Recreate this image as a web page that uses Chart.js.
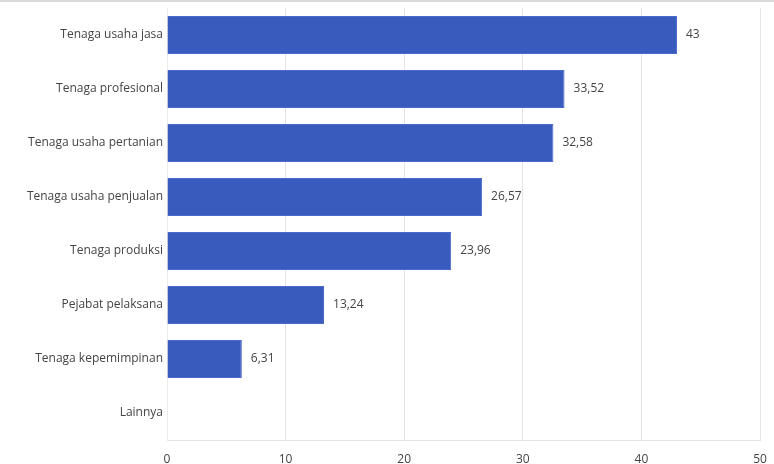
<!DOCTYPE html>
<html>
<head>
<meta charset="utf-8">
<script src="https://cdn.jsdelivr.net/npm/chart.js@4"></script>
<style>
  html, body { margin: 0; padding: 0; background: #fff; }
  #wrap { width: 774px; height: 464px; position: relative; }
</style>
</head>
<body>
<div id="wrap"><canvas id="barChart"></canvas></div>
<script>
// data
const categories = [
  "Tenaga usaha jasa",
  "Tenaga profesional",
  "Tenaga usaha pertanian",
  "Tenaga usaha penjualan",
  "Tenaga produksi",
  "Pejabat pelaksana",
  "Tenaga kepemimpinan",
  "Lainnya",
];
const values = [43, 33.52, 32.58, 26.57, 23.96, 13.24, 6.31, null];
const xTicks = [0, 10, 20, 30, 40, 50];

const fontFamily = "'Open Sans', 'Noto Sans', sans-serif";
const textColor = "#444";

// label angka di ujung batang
const valueLabels = {
  id: "valueLabels",
  afterDatasetsDraw(chart) {
    const ctx = chart.ctx;
    const meta = chart.getDatasetMeta(0);
    ctx.save();
    ctx.font = "12px " + fontFamily;
    ctx.fillStyle = textColor;
    ctx.textBaseline = "middle";
    ctx.textAlign = "left";
    meta.data.forEach((bar, i) => {
      const v = values[i];
      if (v === null) return;
      const txt = String(v).replace(".", ",");
      ctx.fillText(txt, bar.x + 9, bar.y);
    });
    ctx.restore();
  },
};

// garis abu di atas
const topLine = {
  id: "topLine",
  beforeDraw(chart) {
    const ctx = chart.ctx;
    ctx.save();
    ctx.fillStyle = "#d9d9d9";
    ctx.fillRect(0, 0, chart.width, 2);
    ctx.restore();
  },
};

const ctx = document.getElementById("barChart").getContext("2d");
new Chart(ctx, {
  type: "bar",
  data: {
    labels: categories,
    datasets: [
      {
        data: values,
        backgroundColor: "#3A5BBE",
        borderColor: "#4A6BCB",
        borderWidth: 1,
        barPercentage: 0.7,
        categoryPercentage: 1,
      },
    ],
  },
  options: {
    indexAxis: "y",
    responsive: true,
    maintainAspectRatio: false,
    animation: false,
    layout: { padding: { top: 8, right: 14, left: 0, bottom: 0 } },
    plugins: {
      legend: { display: false },
      tooltip: { enabled: false },
    },
    scales: {
      x: {
        min: 0,
        max: 50,
        afterBuildTicks: (s) => {
          s.ticks = xTicks.map((v) => ({ value: v }));
        },
        afterFit: (s) => {
          s.height = 24;
          s.paddingLeft = 0;
          s.paddingRight = 0;
        },
        grid: { color: "#e3e3e3", drawTicks: false },
        border: { color: "#e3e3e3" },
        ticks: {
          color: textColor,
          padding: 12,
          font: { family: fontFamily, size: 12 },
        },
      },
      y: {
        afterFit: (s) => {
          s.width = 167;
          s.paddingTop = 0;
          s.paddingBottom = 0;
        },
        grid: { display: false, drawTicks: false },
        border: { color: "#ececec" },
        ticks: {
          color: textColor,
          padding: 4,
          font: { family: fontFamily, size: 12 },
        },
      },
    },
  },
  plugins: [topLine, valueLabels],
});
</script>
</body>
</html>
